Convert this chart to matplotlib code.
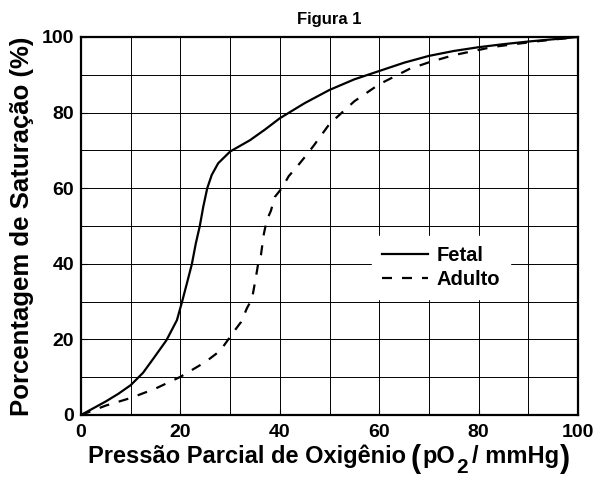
import matplotlib
matplotlib.use("Agg")
import matplotlib.pyplot as plt

# pO2 (mmHg) vs saturation (%)
fetal_po2 = [0, 2.5, 5, 7.5, 10, 12.5, 14.6, 17.2, 19.3, 20.3, 21.3, 22.3, 23.1, 23.9, 24.6, 25.4, 26.3,
             27.6, 30, 34, 37, 40, 45, 50, 55, 60, 65, 70, 75, 80, 85, 90, 95, 100]
fetal_sat = [0, 1.8, 3.6, 5.6, 7.9, 11.2, 15, 19.8, 25.1, 29.8, 34.8, 39.9, 45.4, 50, 55.1, 60, 63.5,
             66.6, 69.7, 72.7, 75.5, 78.5, 82.5, 86, 88.8, 91, 93.2, 95, 96.3, 97.3, 98.1, 98.8, 99.4, 100]

adult_po2 = [0, 5, 10, 15, 20, 25, 28, 31, 32.2, 33.4, 34.4, 35.2, 35.6, 36.2, 36.8, 37.4, 38.2,
             39, 40.4, 41.8, 43.4, 45.5, 46.9, 50, 55, 60, 66, 70, 75, 83, 92, 100]
adult_sat = [0, 2.5, 4.5, 7, 10.1, 14, 17, 22.5, 24.6, 28.3, 30.7, 36.5, 39.7, 42.3, 48, 51.6, 54,
             57.7, 60, 63.2, 65.6, 69, 71.4, 77, 83, 87.5, 91.5, 93.3, 95.2, 97.4, 98.9, 100]

xticks = [0, 20, 40, 60, 80, 100]
yticks = [0, 20, 40, 60, 80, 100]

plt.rcParams['font.family'] = ['Liberation Sans', 'DejaVu Sans']
plt.rcParams['font.weight'] = 'bold'

fig = plt.figure(figsize=(5.97, 4.78), dpi=100)
ax = fig.add_axes([0.1357, 0.1318, 0.8325, 0.7908])

ax.plot(fetal_po2, fetal_sat, color='black', lw=1.6, label='Fetal')
ax.plot(adult_po2, adult_sat, color='black', lw=1.6, dashes=(4.5, 4.5), label='Adulto')

ax.set_xlim(0, 100)
ax.set_ylim(0, 100)
ax.set_xticks(range(0, 101, 10), minor=True)
ax.set_yticks(range(0, 101, 10), minor=True)
ax.set_xticks(xticks)
ax.set_yticks(yticks)
ax.grid(True, which='both', color='black', lw=0.7)
ax.tick_params(which='both', direction='in', length=4, labelsize=14)
ax.tick_params(axis='x', pad=6.5)
ax.tick_params(axis='y', pad=5)
for lab in ax.get_xticklabels() + ax.get_yticklabels():
    lab.set_fontweight('bold')
for s in ax.spines.values():
    s.set_linewidth(1.6)

ax.set_title('Figura 1', fontsize=12, fontweight='bold', pad=9)
ax.set_ylabel('Porcentagem de Saturação (%)', fontsize=18.5, fontweight='bold')
ax.yaxis.set_label_coords(-0.095, 0.5)

# x label: pieces chained left to right (big parentheses, dropped subscript)
t = fig.text(88, 15, 'Pressão Parcial de Oxigênio', transform=None, fontsize=17,
             fontweight='bold', ha='left', va='baseline')
pieces = [('(', 22, 11, 5), ('pO', 17, 15, 1), ('2', 15, 5, 1), ('/ mmHg', 17, 15, 4), (')', 22, 11, 1)]
for txt, size, base, gap in pieces:
    t = ax.annotate(txt, xy=(1.0, base), xycoords=(t, 'figure pixels'), xytext=(gap, 0),
                    textcoords='offset pixels', fontsize=size, fontweight='bold',
                    ha='left', va='baseline', annotation_clip=False)

leg = ax.legend(loc='center', bbox_to_anchor=(0.724, 0.39), fontsize=14.5, handlelength=2.3,
                frameon=True, fancybox=False, framealpha=1, edgecolor='white',
                borderpad=0.5, handletextpad=0.4, labelspacing=0.25)
for tx in leg.get_texts():
    tx.set_fontweight('bold')

fig.savefig('out.png', dpi=100)
